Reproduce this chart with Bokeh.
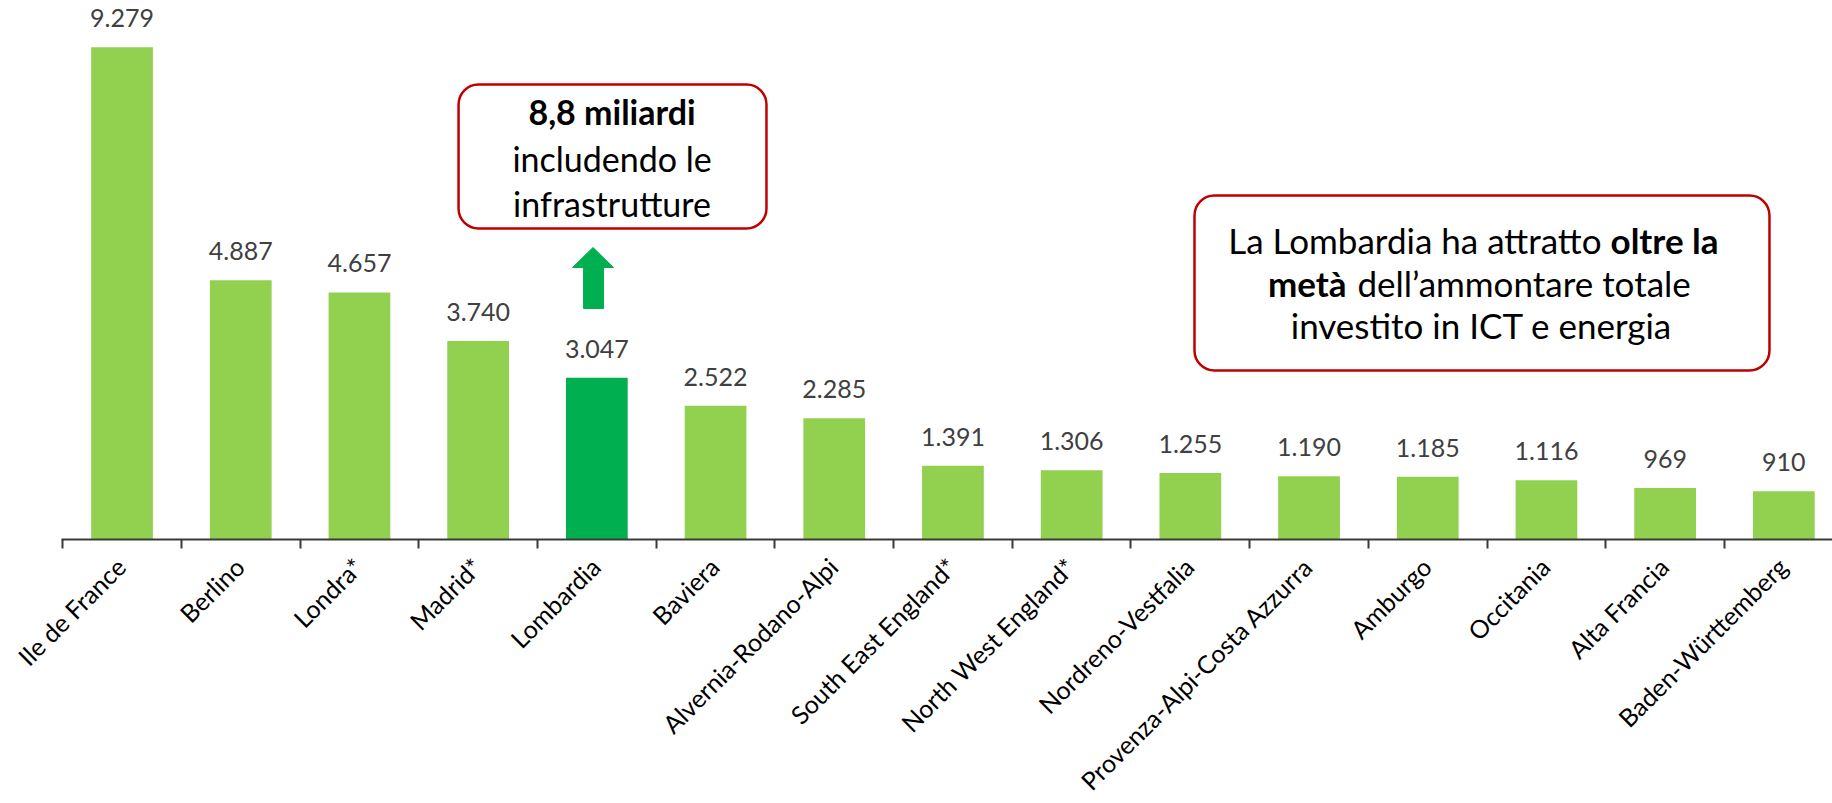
import math
from bokeh.plotting import figure
from bokeh.models import (Range1d, FixedTicker, ColumnDataSource, LabelSet, Label,
                          BoxAnnotation, PolyAnnotation, LinearAxis)
from bokeh.core.properties import value
from bokeh.embed import file_html
from bokeh.resources import INLINE

# ---- data ----
regions = ["Ile de France", "Berlino", "Londra*", "Madrid*", "Lombardia", "Baviera",
           "Alvernia-Rodano-Alpi", "South East England*", "North West England*",
           "Nordreno-Vestfalia", "Provenza-Alpi-Costa Azzurra", "Amburgo", "Occitania",
           "Alta Francia", "Baden-Württemberg"]
values = [9279, 4887, 4657, 3740, 3047, 2522, 2285, 1391, 1306, 1255, 1190, 1185, 1116, 969, 910]
value_labels = ["9.279", "4.887", "4.657", "3.740", "3.047", "2.522", "2.285", "1.391",
                "1.306", "1.255", "1.190", "1.185", "1.116", "969", "910"]
highlight = "Lombardia"

FONT = "Lato"
LIGHT = "#92D050"
DARK = "#00B050"
RED = "#C00000"
AXIS = "#3a3a3a"

xs = list(range(len(regions)))
zeros = [0] * len(regions)
colors = [DARK if r == highlight else LIGHT for r in regions]
src = ColumnDataSource(dict(x=xs, base=zeros, value=values, label=value_labels,
                            region=regions, color=colors))

p = figure(width=1832, height=803,
           x_range=Range1d(-1.024, 14.41), y_range=Range1d(-4976, 10009),
           output_backend="svg", toolbar_location=None,
           x_axis_location=None, y_axis_location=None,
           min_border_left=0, min_border_right=0, min_border_top=8, min_border_bottom=0)
p.outline_line_color = None
p.grid.visible = False
p.background_fill_color = "white"
p.border_fill_color = "white"

p.vbar(x="x", top="value", bottom=0, width=0.52, color="color", line_color=None, source=src)

p.add_layout(LabelSet(x="x", y="value", text="label", source=src, text_align="center",
                      text_baseline="alphabetic", y_offset=20, text_font=value(FONT),
                      text_font_size=value("25px"), text_color=value("#404040")))

# x axis drawn at value 0, ticks between the categories
ax = LinearAxis(fixed_location=0, bounds=(-0.51, 14.41),
                ticker=FixedTicker(ticks=xs, minor_ticks=[i - 0.5 for i in xs]),
                major_label_overrides={i: "" for i in xs},
                major_label_text_font_size="0px",
                major_tick_out=0, major_tick_in=0,
                minor_tick_out=9, minor_tick_in=0,
                minor_tick_line_color=AXIS, minor_tick_line_width=2,
                axis_line_color=AXIS, axis_line_width=2)
p.add_layout(ax, "below")

# category labels, rotated 45 degrees, ending just under each bar
p.add_layout(LabelSet(x="x", y="base", text="region", source=src, angle=math.pi / 4,
                      text_align="right", text_baseline="top", x_offset=-12, y_offset=-12,
                      text_font=value(FONT), text_font_size=value("25px"),
                      text_color=value("#000000")))

# ---- callout boxes ----
p.add_layout(BoxAnnotation(left=2.835, right=5.429, top=8577, bottom=5862,
                           fill_color="white", fill_alpha=1, line_color=RED, line_alpha=1,
                           line_width=2.5, border_radius=20))
p.add_layout(BoxAnnotation(left=9.035, right=13.879, top=6484, bottom=3186,
                           fill_color="white", fill_alpha=1, line_color=RED, line_alpha=1,
                           line_width=2.5, border_radius=20))

def lab(x, y, t, align="center", bold=False, size="34px"):
    p.add_layout(Label(x=x, y=y, text=t, text_align=align, text_baseline="alphabetic",
                       text_font=FONT, text_font_size=size, text_color="black",
                       text_font_style="bold" if bold else "normal"))

lab(4.128, 8062, "8,8 miliardi", bold=True)
lab(4.128, 7182, "includendo le")
lab(4.128, 6333, "infrastrutture")

lab(12.464, 5640, "La Lombardia ha attratto", align="right", size="35px")
lab(12.540, 5640, "oltre la", align="left", bold=True, size="35px")
lab(10.316, 4829, "metà", align="right", bold=True, size="35px")
lab(10.408, 4829, "dell’ammontare totale", align="left", size="35px")
lab(11.453, 4034, "investito in ICT e energia", size="35px")

# ---- green arrow ----
p.add_layout(PolyAnnotation(
    xs=[3.968, 4.140, 4.056, 4.056, 3.888, 3.888, 3.795],
    ys=[5504, 5127, 5127, 4354, 4354, 5127, 5127],
    fill_color=DARK, fill_alpha=1, line_color=DARK, line_alpha=1, line_width=1))

open("out.html", "w").write(file_html(p, INLINE))
